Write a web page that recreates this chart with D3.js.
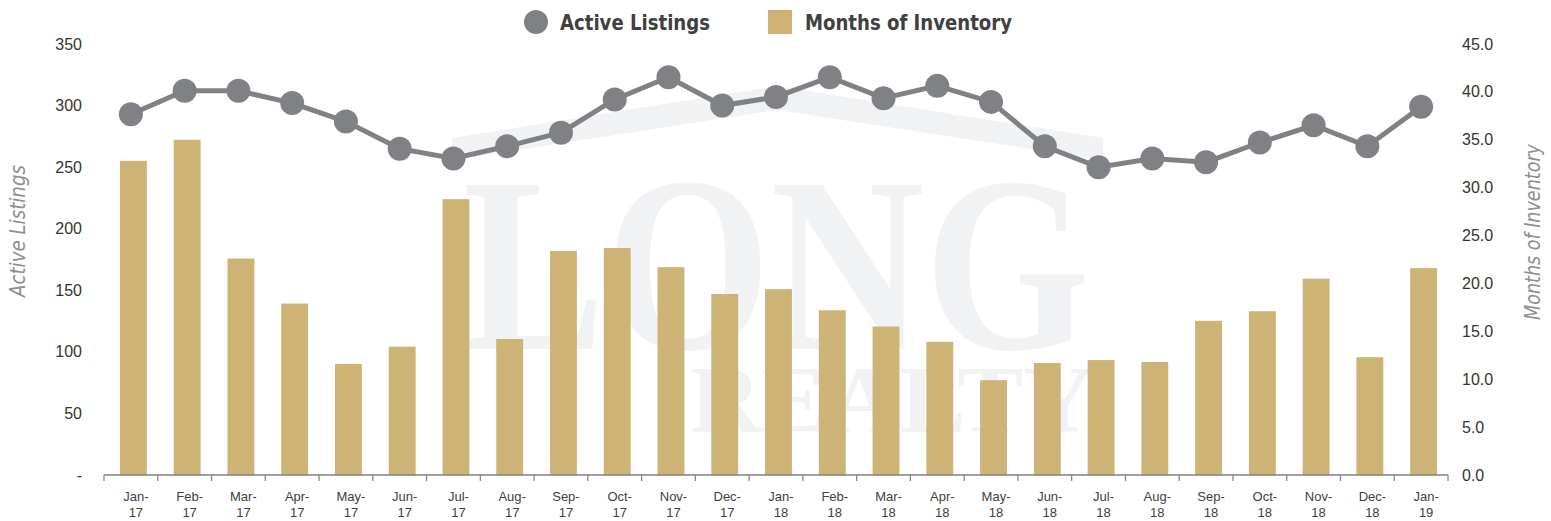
<!DOCTYPE html>
<html>
<head>
<meta charset="utf-8">
<script src="https://cdn.jsdelivr.net/npm/d3@7"></script>
<style>
  body { margin: 0; background: #fff; }
  svg { display: block; font-family: "Liberation Sans", Arial, sans-serif; }
</style>
</head>
<body>
<svg id="chart" width="1551" height="521"></svg>
<script>
// data
const months = ["Jan-17", "Feb-17", "Mar-17", "Apr-17", "May-17", "Jun-17", "Jul-17", "Aug-17", "Sep-17",
    "Oct-17", "Nov-17", "Dec-17", "Jan-18", "Feb-18", "Mar-18", "Apr-18", "May-18", "Jun-18",
    "Jul-18", "Aug-18", "Sep-18", "Oct-18", "Nov-18", "Dec-18", "Jan-19"];
const activeListings = [293, 312, 312, 302, 287, 265, 257, 267, 278, 305, 323, 300, 307, 323, 306,
    316, 303, 267, 250, 257, 254, 270, 284, 267, 299];
const monthsOfInventory = [32.8, 35.0, 22.6, 17.9, 11.6, 13.4, 28.8, 14.2, 23.4, 23.7, 21.7, 18.9, 19.4,
    17.2, 15.5, 13.9, 9.9, 11.7, 12.0, 11.8, 16.1, 17.1, 20.5, 12.3, 21.6];
const leftTicks = [0, 50, 100, 150, 200, 250, 300, 350];
const rightTicks = [0, 5, 10, 15, 20, 25, 30, 35, 40, 45];

const GOLD = "#cdb476";
const GREY = "#808184";
const WATER = "#f1f2f4";

const svg = d3.select("#chart");
const plotLeft = 104, plotRight = 1448, plotTop = 44, plotBottom = 475;

const x = d3.scaleBand().domain(months).range([plotLeft, plotRight]);
const yL = d3.scaleLinear().domain([0, 350]).range([plotBottom, plotTop]);
const yR = d3.scaleLinear().domain([0, 45]).range([plotBottom, plotTop]);
const bw = x.bandwidth();

// faint logo watermark behind the chart
const wm = svg.append("g").attr("class", "watermark");
wm.append("polygon")
    .attr("points", [[452, 138], [777, 86], [1103, 138], [1103, 160], [777, 110], [452, 160]].join(" "))
    .attr("fill", WATER);
wm.append("text")
    .attr("x", 463).attr("y", 349)
    .attr("font-family", "'Liberation Serif', 'DejaVu Serif', serif")
    .attr("font-weight", "bold")
    .attr("font-size", 250)
    .attr("textLength", 627).attr("lengthAdjust", "spacingAndGlyphs")
    .attr("fill", WATER)
    .text("LONG");
wm.append("text")
    .attr("x", 690).attr("y", 432)
    .attr("font-family", "'Liberation Serif', 'DejaVu Serif', serif")
    .attr("font-weight", "bold")
    .attr("font-size", 95)
    .attr("textLength", 405).attr("lengthAdjust", "spacingAndGlyphs")
    .attr("fill", WATER)
    .text("REALTY");

// bars: months of inventory
svg.append("g").selectAll("rect")
    .data(months)
    .join("rect")
    .attr("x", (d) => x(d) + bw * 0.25 + 2.5)
    .attr("width", bw * 0.5)
    .attr("y", (d, i) => yR(monthsOfInventory[i]))
    .attr("height", (d, i) => plotBottom - yR(monthsOfInventory[i]))
    .attr("fill", GOLD);

// x axis
const xAxis = svg.append("g").attr("transform", `translate(0,${plotBottom})`);
xAxis.append("line")
    .attr("x1", plotLeft).attr("x2", plotRight)
    .attr("stroke", "#7f7f7f").attr("stroke-width", 1.5);
xAxis.selectAll("line.tick")
    .data(d3.range(months.length + 1))
    .join("line")
    .attr("class", "tick")
    .attr("x1", (i) => plotLeft + i * bw).attr("x2", (i) => plotLeft + i * bw)
    .attr("y1", 0).attr("y2", 6)
    .attr("stroke", "#7f7f7f").attr("stroke-width", 1.2);
const xl = xAxis.selectAll("text")
    .data(months)
    .join("text")
    .attr("text-anchor", "middle")
    .attr("font-size", 13)
    .attr("fill", "#404040");
xl.append("tspan")
    .attr("x", (d) => x(d) + bw / 2 + 5).attr("y", 26)
    .text((d) => d.split("-")[0] + "-");
xl.append("tspan")
    .attr("x", (d) => x(d) + bw / 2 + 5).attr("y", 42)
    .text((d) => d.split("-")[1]);

// left axis labels
svg.append("g").selectAll("text")
    .data(leftTicks)
    .join("text")
    .attr("x", 82).attr("y", (d) => yL(d))
    .attr("dy", "0.35em")
    .attr("text-anchor", "end")
    .attr("font-size", 16)
    .attr("fill", "#333")
    .text((d) => d === 0 ? "-" : d);

// right axis labels
svg.append("g").selectAll("text")
    .data(rightTicks)
    .join("text")
    .attr("x", 1462).attr("y", (d) => yR(d))
    .attr("dy", "0.35em")
    .attr("font-size", 16)
    .attr("fill", "#333")
    .text((d) => d3.format(".1f")(d));

// axis titles
svg.append("text")
    .attr("transform", "translate(25,231) rotate(-90)")
    .attr("text-anchor", "middle")
    .attr("font-family", "'DejaVu Sans Condensed', 'Liberation Sans Narrow', sans-serif")
    .attr("font-style", "italic")
    .attr("font-size", 21)
    .attr("textLength", 132).attr("lengthAdjust", "spacingAndGlyphs")
    .attr("fill", "#8f8f8f")
    .text("Active Listings");
svg.append("text")
    .attr("transform", "translate(1540,232) rotate(-90)")
    .attr("text-anchor", "middle")
    .attr("font-family", "'DejaVu Sans Condensed', 'Liberation Sans Narrow', sans-serif")
    .attr("font-style", "italic")
    .attr("font-size", 21)
    .attr("textLength", 176).attr("lengthAdjust", "spacingAndGlyphs")
    .attr("fill", "#8f8f8f")
    .text("Months of Inventory");

// line + points: active listings
const line = d3.line()
    .x((d, i) => x(months[i]) + bw / 2)
    .y((d) => yL(d));
svg.append("path")
    .datum(activeListings)
    .attr("d", line)
    .attr("fill", "none")
    .attr("stroke", GREY)
    .attr("stroke-width", 5);
svg.append("g").selectAll("circle")
    .data(activeListings)
    .join("circle")
    .attr("cx", (d, i) => x(months[i]) + bw / 2)
    .attr("cy", (d) => yL(d))
    .attr("r", 12)
    .attr("fill", GREY);

// legend
const legend = svg.append("g")
    .attr("font-family", "'DejaVu Sans Condensed', 'Liberation Sans Narrow', sans-serif")
    .attr("font-weight", "bold")
    .attr("font-size", 22)
    .attr("fill", "#404040");
legend.append("circle").attr("cx", 536).attr("cy", 22).attr("r", 12).attr("fill", GREY);
legend.append("text").attr("x", 560).attr("y", 30)
    .attr("textLength", 150).attr("lengthAdjust", "spacingAndGlyphs")
    .text("Active Listings");
legend.append("rect").attr("x", 768).attr("y", 10).attr("width", 24).attr("height", 24).attr("fill", GOLD);
legend.append("text").attr("x", 805).attr("y", 30)
    .attr("textLength", 207).attr("lengthAdjust", "spacingAndGlyphs")
    .text("Months of Inventory");
</script>
</body>
</html>
